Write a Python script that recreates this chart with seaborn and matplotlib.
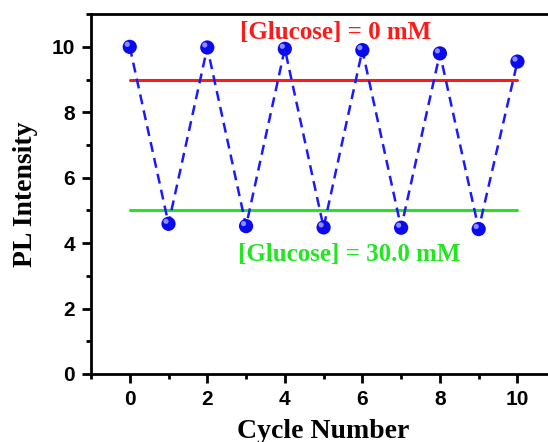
import matplotlib
matplotlib.use('Agg')
import matplotlib.pyplot as plt
import matplotlib.transforms as mtransforms
from matplotlib.ticker import MultipleLocator
import seaborn as sns
import pandas as pd

# ---- data ----
cycles = [0, 1, 2, 3, 4, 5, 6, 7, 8, 9, 10]
intensity = [10.0, 4.59, 9.98, 4.52, 9.94, 4.48, 9.90, 4.47, 9.80, 4.43, 9.55]
ref_x = [0, 10]
ref_high = [9, 9]
ref_low = [5, 5]
label_high = "[Glucose] = 0 mM"
label_low = "[Glucose] = 30.0 mM"
label_high_pos = (5.30, 10.44)
label_low_pos = (5.67, 3.64)
xlabel = "Cycle Number"
ylabel = "PL Intensity"

sns.set_style("ticks")
plt.rcParams['font.family'] = ['Liberation Sans', 'DejaVu Sans']
plt.rcParams['text.color'] = 'black'
plt.rcParams['axes.labelcolor'] = 'black'
plt.rcParams['xtick.color'] = 'black'
plt.rcParams['ytick.color'] = 'black'

fig = plt.figure(figsize=(5.48, 4.42), dpi=100)
ax = fig.add_axes([0.166, 0.154, 0.849, 0.814])

df = pd.DataFrame({'cycle': cycles, 'intensity': intensity})
ref = pd.DataFrame({'x': ref_x, 'high': ref_high, 'low': ref_low})

sns.lineplot(data=ref, x='x', y='high', color='#ff1a1a', lw=2.2, ax=ax, zorder=2)
sns.lineplot(data=ref, x='x', y='low', color='#22e622', lw=2.2, ax=ax, zorder=2)
sns.lineplot(data=df, x='cycle', y='intensity', color='#1a1aff', lw=1.8,
             linestyle=(0, (4, 2.5)), ax=ax, zorder=3)
sns.scatterplot(data=df, x='cycle', y='intensity', s=105, color='#0a0aee',
                edgecolor='none', linewidth=0, ax=ax, zorder=5)
hl = mtransforms.offset_copy(ax.transData, fig=fig, x=-1.8, y=1.8, units='points')
sns.scatterplot(data=df, x='cycle', y='intensity', s=14, color='#8c8cff',
                edgecolor='none', linewidth=0, ax=ax, zorder=6, transform=hl)

ax.text(*label_high_pos, label_high, color='#ff1a1a', fontsize=18, fontweight='bold',
        family='Liberation Serif', ha='center', va='center')
ax.text(*label_low_pos, label_low, color='#22e622', fontsize=18, fontweight='bold',
        family='Liberation Serif', ha='center', va='center')

ax.set_xlim(-1, 11)
ax.set_ylim(0, 11)
ax.xaxis.set_major_locator(MultipleLocator(2))
ax.xaxis.set_minor_locator(MultipleLocator(1))
ax.yaxis.set_major_locator(MultipleLocator(2))
ax.yaxis.set_minor_locator(MultipleLocator(1))
ax.tick_params(which='major', length=6.5, width=2, direction='out', labelsize=15,
               pad=5, color='black', labelcolor='black')
ax.tick_params(which='minor', length=3.5, width=2, direction='out', color='black')
for lbl in ax.get_xticklabels() + ax.get_yticklabels():
    lbl.set_fontweight('bold')
for sp in ax.spines.values():
    sp.set_linewidth(2)
    sp.set_color('black')

ax.set_xlabel(xlabel, family='Liberation Serif', fontweight='bold', fontsize=20,
              labelpad=7, color='black')
ax.set_ylabel(ylabel, family='Liberation Serif', fontweight='bold', fontsize=20,
              labelpad=10, color='black')
ax.grid(False)

fig.savefig('out.png', dpi=100)
